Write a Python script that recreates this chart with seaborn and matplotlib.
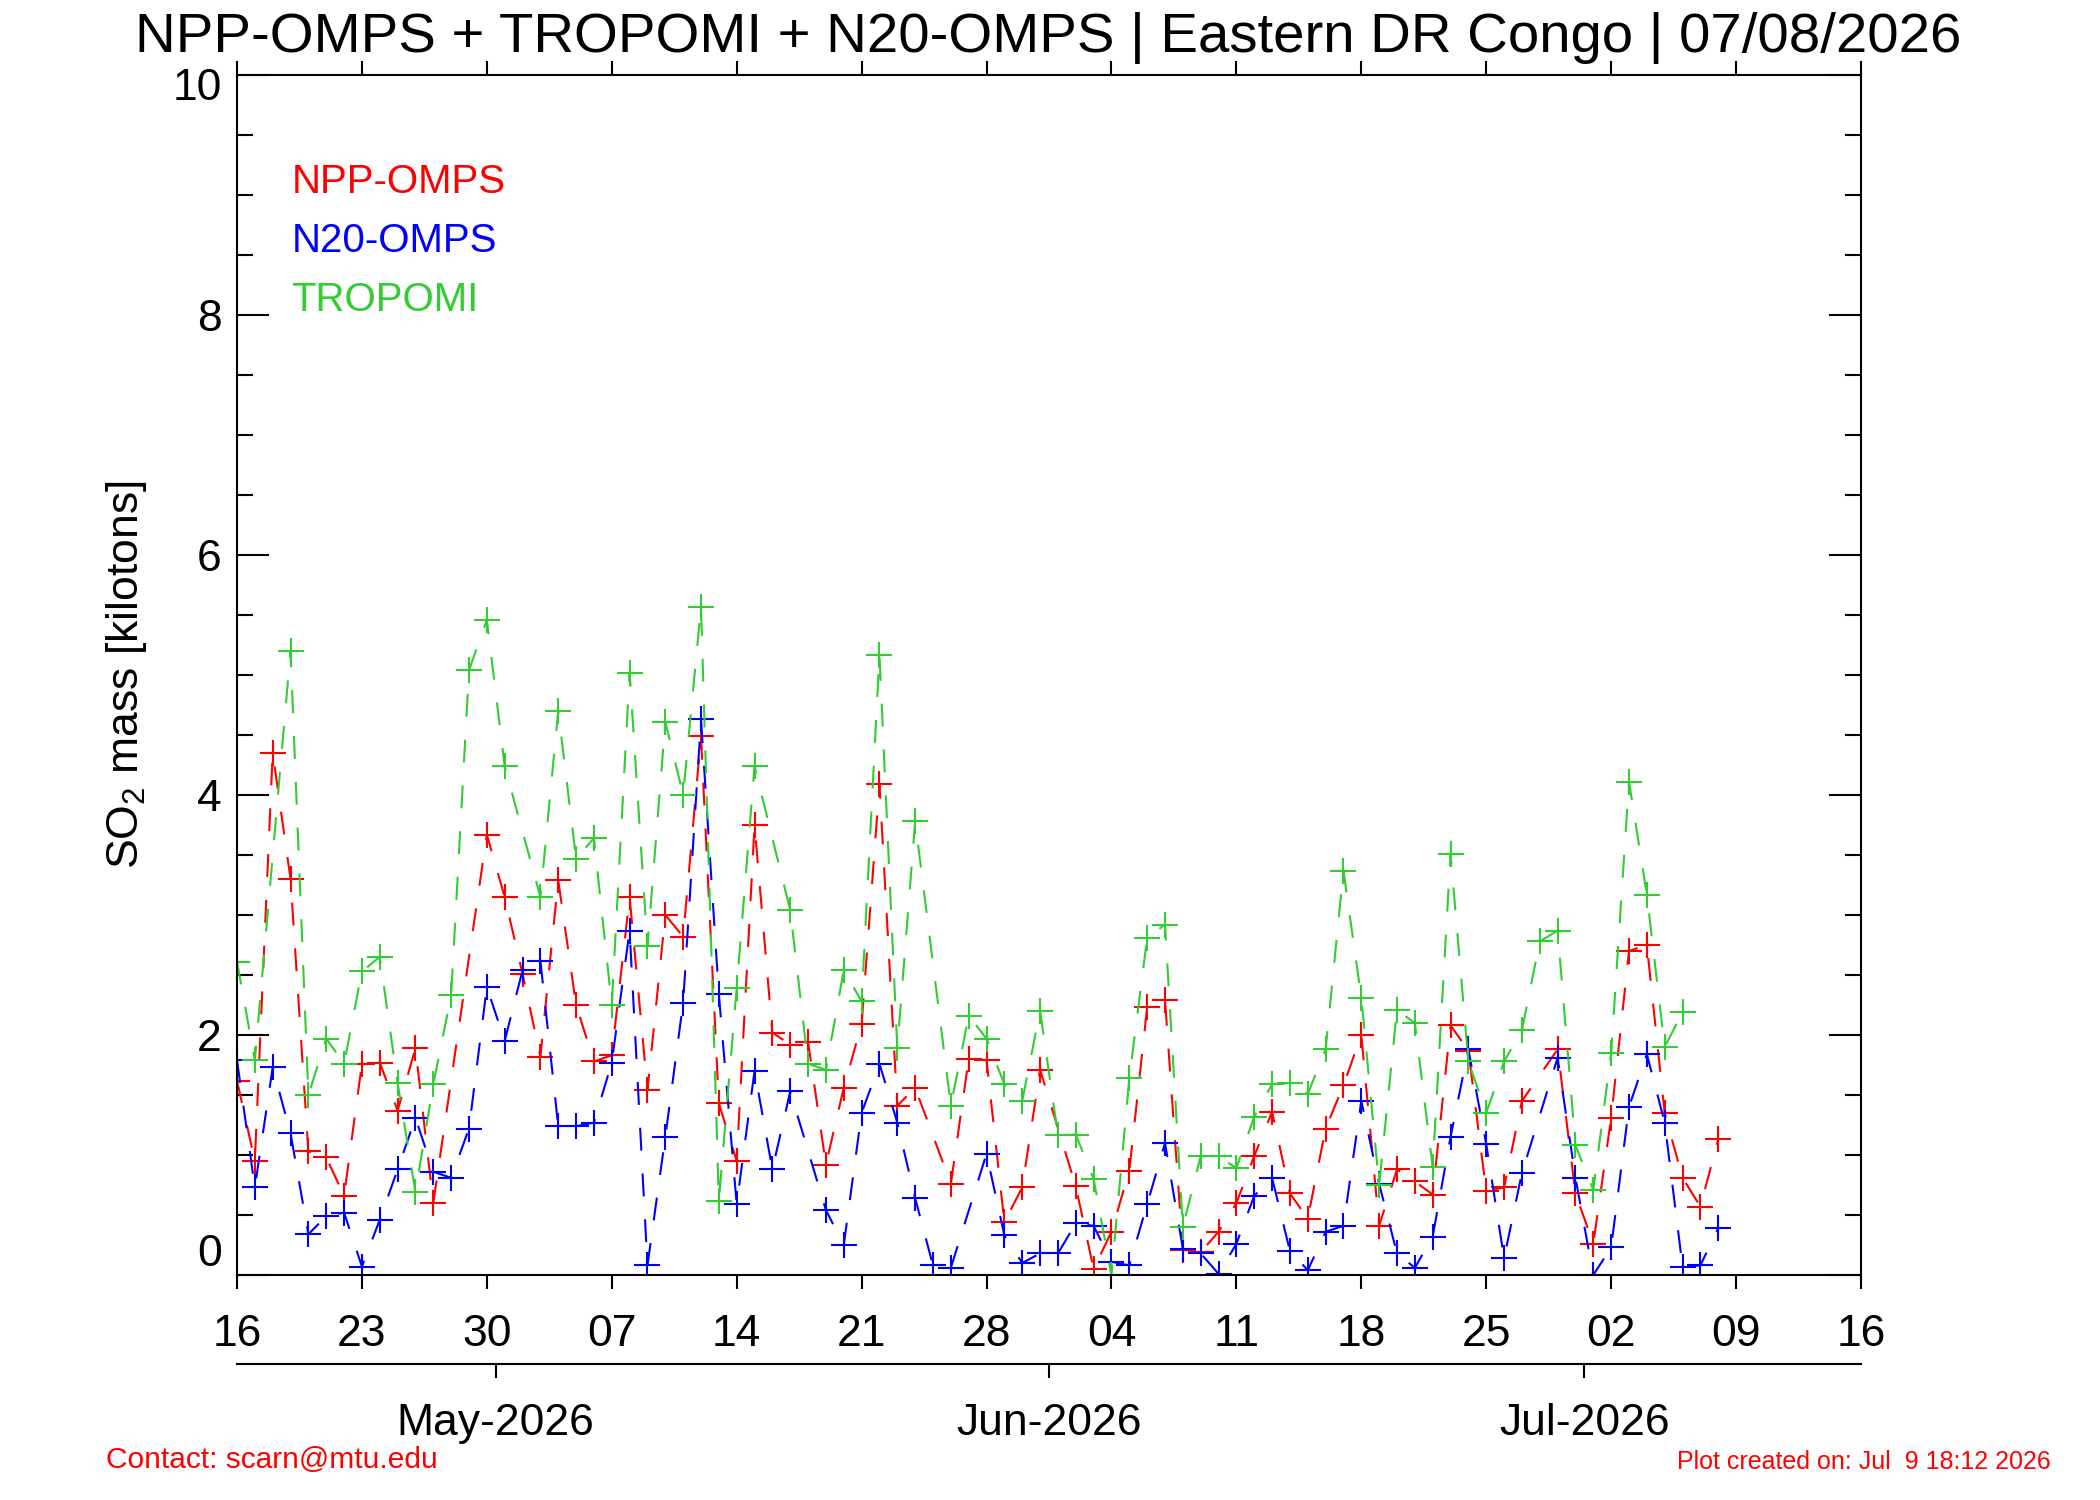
import numpy as np
import pandas as pd
import matplotlib
matplotlib.use("Agg")
import matplotlib.pyplot as plt
import matplotlib.dates as mdates
from matplotlib.ticker import MultipleLocator, FixedLocator
from matplotlib.transforms import ScaledTranslation
import seaborn as sns

# ---------------- data (days since 2026-04-16, SO2 mass in kilotons) ----------------
start_date = "2026-04-16"
end_date = "2026-07-16"

npp_days = [0, 1, 2, 3, 4, 5, 6, 7, 8, 9, 10, 11,
            14, 15, 16, 17, 18, 19, 20, 21, 22, 23, 24, 25, 26, 27, 28, 29, 30, 31, 32, 33, 34, 35, 36, 37, 38,
            40, 41, 42, 43, 44, 45,
            47, 48, 49, 50, 51, 52, 53, 54, 55, 56, 57, 58, 59, 60, 61, 62, 63, 64, 65, 66, 67, 68, 69, 70, 71, 72,
            74, 75, 76, 77, 78, 79, 80, 81, 82, 83]
npp_vals = [1.62, 0.95, 4.35, 3.30, 1.03, 0.98, 0.66, 1.76, 1.77, 1.37, 1.89, 0.60,
            3.67, 3.15, 2.51, 1.82, 3.29, 2.25, 1.78, 1.83, 3.15, 1.54, 3.00, 2.82, 4.49, 1.43, 0.95, 3.75, 2.02, 1.92, 1.94, 0.92, 1.56, 2.09, 4.09, 1.41, 1.56,
            0.76, 1.80, 1.79, 0.44, 0.73, 1.71,
            0.74, 0.05, 0.36, 0.87, 2.23, 2.29, 0.21, 0.19, 0.36, 0.60, 0.99, 1.36, 0.68, 0.47, 1.22, 1.58, 2.00, 0.41, 0.88, 0.78, 0.67, 2.08, 1.87, 0.70, 0.73, 1.45,
            1.88, 0.68, 0.26, 1.31, 2.70, 2.75, 1.35, 0.81, 0.57, 1.13]

n20_days = [0, 1, 2, 3, 4, 5, 6, 7, 8, 9, 10, 11, 12, 13, 14, 15, 16, 17, 18, 19, 20, 21, 22, 23, 24, 25, 26, 27, 28, 29, 30, 31,
            33, 34, 35, 36, 37, 38, 39, 40,
            42, 43, 44, 45, 46, 47, 48, 49, 50, 51, 52, 53, 54, 55, 56, 57, 58, 59, 60, 61, 62, 63, 64, 65, 66, 67, 68, 69, 70, 71, 72,
            74, 75, 76, 77, 78, 79, 80, 81, 82, 83]
n20_vals = [1.79, 0.73, 1.73, 1.18, 0.34, 0.49, 0.52, 0.07, 0.46, 0.88, 1.31, 0.86, 0.81, 1.22, 2.40, 1.95, 2.54, 2.62, 1.24, 1.24, 1.27, 1.77, 2.87, 0.08, 1.15, 2.27, 4.63, 2.34, 0.59, 1.70, 0.88, 1.53,
            0.54, 0.25, 1.35, 1.76, 1.27, 0.64, 0.08, 0.06,
            1.01, 0.33, 0.10, 0.18, 0.18, 0.43, 0.41, 0.11, 0.08, 0.59, 1.10, 0.22, 0.18, 0.01, 0.26, 0.66, 0.81, 0.20, 0.04, 0.36, 0.41, 1.45, 0.76, 0.18, 0.06, 0.32, 1.15, 1.88, 1.09, 0.14, 0.85,
            1.81, 0.81, 0.00, 0.23, 1.40, 1.84, 1.27, 0.07, 0.08, 0.39]

tropomi_days = [0, 1, 3, 4, 5, 6, 7, 8, 9, 10, 11, 12, 13, 14, 15,
                17, 18, 19, 20, 21, 22, 23, 24, 25, 26, 27, 28, 29,
                31, 32, 33, 34, 35, 36, 37, 38,
                40, 41, 42, 43, 44, 45, 46, 47, 48, 49, 50, 51, 52, 53, 54, 55, 56, 57, 58, 59, 60, 61, 62, 63, 64, 65,
                66, 67, 68, 69, 70, 71, 72, 73, 74, 75, 76, 77, 78, 79, 80, 81]
tropomi_vals = [2.61, 1.79, 5.20, 1.50, 1.97, 1.76, 2.53, 2.65, 1.60, 0.69, 1.59, 2.33, 5.04, 5.46, 4.24,
                3.15, 4.70, 3.47, 3.64, 2.25, 5.02, 2.74, 4.61, 4.00, 5.57, 0.62, 2.39, 4.24,
                3.04, 1.76, 1.71, 2.54, 2.28, 5.17, 1.89, 3.78,
                1.41, 2.16, 1.97, 1.59, 1.45, 2.20, 1.17, 1.17, 0.80, 0.00, 1.64, 2.81, 2.92, 0.40, 0.99, 0.99, 0.89, 1.32, 1.59, 1.60, 1.51, 1.88, 3.37, 2.31, 0.75, 2.21,
                2.10, 0.90, 3.51, 1.78, 1.35, 1.78, 2.04, 2.78, 2.87, 1.08, 0.71, 1.85, 4.11, 3.17, 1.90, 2.19]

series_names = ["NPP-OMPS", "N20-OMPS", "TROPOMI"]
series_colors = ["#FF0000", "#0000FF", "#32CD32"]
month_starts = ["2026-05-01", "2026-06-01", "2026-07-01"]
month_labels = ["May-2026", "Jun-2026", "Jul-2026"]

title_text = "NPP-OMPS + TROPOMI + N20-OMPS | Eastern DR Congo | 07/08/2026"
ylabel_text = r"SO$_\mathregular{2}$ mass [kilotons]"
contact_text = "Contact: scarn@mtu.edu"
created_text = "Plot created on: Jul  9 18:12 2026"

# ---------------- build table ----------------
t0 = pd.Timestamp(start_date)
frames = []
for name, days, vals in [("NPP-OMPS", npp_days, npp_vals),
                         ("N20-OMPS", n20_days, n20_vals),
                         ("TROPOMI", tropomi_days, tropomi_vals)]:
    frames.append(pd.DataFrame({"date": t0 + pd.to_timedelta(days, unit="D"),
                                "so2": vals, "sensor": name}))
df = pd.concat(frames, ignore_index=True)

# ---------------- style ----------------
sns.set_theme(style="ticks")
plt.rcParams["font.family"] = ["Liberation Sans", "DejaVu Sans"]
plt.rcParams["mathtext.fontset"] = "custom"
plt.rcParams["mathtext.rm"] = "Liberation Sans"
for key in ["text.color", "axes.labelcolor", "xtick.color", "ytick.color", "axes.edgecolor"]:
    plt.rcParams[key] = "black"

fig = plt.figure(figsize=(21, 15), dpi=100)
L, R, T, B = 237, 1861, 75, 1275
W, H = 2100, 1500
ax = fig.add_axes([L / W, 1 - B / H, (R - L) / W, (B - T) / H])

for name, col in zip(series_names, series_colors):
    sub = df[df["sensor"] == name]
    sns.lineplot(data=sub, x="date", y="so2", ax=ax, color=col,
                 linewidth=1.5, linestyle=(0, (11, 11)),
                 marker="+", markersize=19, markeredgewidth=1.5,
                 markeredgecolor=col, legend=False, estimator=None, sort=False)

xmin, xmax = pd.Timestamp(start_date), pd.Timestamp(end_date)
ax.set_xlim(mdates.date2num(xmin), mdates.date2num(xmax))
ax.set_ylim(0, 10)

week_ticks = mdates.date2num(pd.date_range(start_date, end_date, freq="7D"))
ax.xaxis.set_major_locator(FixedLocator(week_ticks))
ax.xaxis.set_major_formatter(mdates.DateFormatter("%d"))
ax.xaxis.set_minor_locator(FixedLocator([]))
ax.tick_params(axis="x", which="major", direction="out", length=10, width=1.5,
               top=True, bottom=True, labelsize=32, pad=18, colors="black")

ax.set_yticks([0, 2, 4, 6, 8, 10])
ax.yaxis.set_minor_locator(MultipleLocator(0.5))
ax.tick_params(axis="y", which="major", direction="in", length=23, width=1.5,
               left=True, right=True, labelsize=32, pad=11, colors="black")
ax.tick_params(axis="y", which="minor", direction="in", length=11.5, width=1.5,
               left=True, right=True, colors="black")
for s in ax.spines.values():
    s.set_linewidth(1.5)
    s.set_color("black")

ax.set_xlabel("")
ax.set_ylabel(ylabel_text, fontsize=32, va="center", color="black")
ax.yaxis.set_label_coords((127 - L) / (R - L), 0.5)

# legend as coloured text
for i, (name, col) in enumerate(zip(series_names, series_colors)):
    ax.text(0.0336, [0.911, 0.862, 0.8125][i], name, transform=ax.transAxes,
            color=col, fontsize=29, va="center", ha="left")

# month axis underneath
ax2 = fig.add_axes([L / W, 1 - 1364 / H, (R - L) / W, 1e-6])
ax2.set_xlim(ax.get_xlim())
for k in ["left", "right", "top"]:
    ax2.spines[k].set_visible(False)
ax2.spines["bottom"].set_linewidth(1.5)
ax2.spines["bottom"].set_color("black")
ax2.set_yticks([])
month_pos = mdates.date2num(pd.to_datetime(month_starts) - pd.Timedelta(hours=12))
ax2.set_xticks(month_pos)
ax2.set_xticklabels(month_labels)
ax2.tick_params(axis="x", direction="out", length=10, width=1.5, labelsize=32, pad=18, colors="black")
ax2.patch.set_visible(False)

fig.text(0.499, 1 - 52 / H, title_text, ha="center", va="baseline", fontsize=40.6, color="black")
fig.text(106 / W, 1 - 1460 / H, contact_text, ha="left", va="center", fontsize=21.5, color="#FF0000")
fig.text(2051 / W, 1 - 1462 / H, created_text, ha="right", va="center", fontsize=18, color="#FF0000")

fig.canvas.draw()
for lab in ax.get_yticklabels():
    if lab.get_text() == "0":
        lab.set_va("bottom")
    elif lab.get_text() == "10":
        lab.set_transform(lab.get_transform() + ScaledTranslation(0, -9 / 100, fig.dpi_scale_trans))

fig.savefig("out.png", dpi=100, facecolor="white")
